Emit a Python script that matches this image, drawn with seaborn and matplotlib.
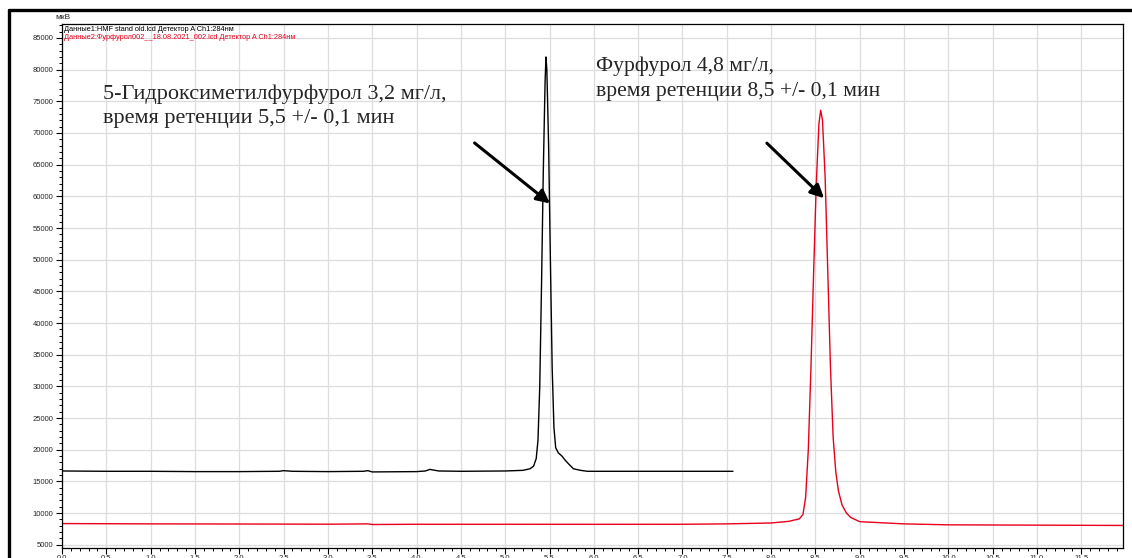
import numpy as np
import pandas as pd
import seaborn as sns
import matplotlib.pyplot as plt
from matplotlib.lines import Line2D
from matplotlib.ticker import MultipleLocator, FormatStrFormatter

# Trace 1: HMF standard (black), time in min, signal in uV
hmf_time = [0.0, 0.5, 1.0, 1.5, 2.0, 2.45, 2.5, 2.6, 3.0, 3.4, 3.45, 3.5, 4.0,
            4.1, 4.15, 4.25, 4.5, 5.0, 5.2, 5.28, 5.32, 5.35, 5.37, 5.39, 5.41,
            5.43, 5.45, 5.46, 5.47, 5.49, 5.51, 5.53, 5.55, 5.57, 5.60, 5.64,
            5.68, 5.72, 5.77, 5.85, 5.93, 6.5, 7.0, 7.57]
hmf_signal = [16650, 16600, 16600, 16550, 16550, 16600, 16700, 16600, 16550,
              16600, 16700, 16500, 16550, 16650, 16900, 16650, 16600, 16650,
              16750, 17000, 17400, 18600, 21500, 30000, 46000, 64000, 78000,
              82000, 80000, 68000, 50000, 33000, 23500, 20300, 19500, 19000,
              18300, 17700, 17000, 16750, 16600, 16600, 16600, 16600]

# Trace 2: furfural (red)
fur_time = [0.0, 1.0, 2.0, 3.0, 3.45, 3.5, 4.0, 5.0, 6.0, 7.0, 7.5, 8.0, 8.2,
            8.32, 8.36, 8.39, 8.42, 8.45, 8.48, 8.51, 8.54, 8.56, 8.58, 8.61,
            8.64, 8.67, 8.70, 8.73, 8.76, 8.80, 8.85, 8.90, 9.0, 9.5, 10.0,
            11.0, 12.0]
fur_signal = [8350, 8300, 8280, 8250, 8300, 8200, 8240, 8240, 8230, 8240, 8300,
              8440, 8700, 9100, 9800, 12500, 20000, 33000, 48000, 62000, 71500,
              73600, 72000, 63000, 48000, 33000, 22000, 16500, 13500, 11300,
              10000, 9300, 8650, 8300, 8150, 8100, 8050]

legend_lines = ['Данные1:HMF stand old.lcd Детектор A Ch1:284нм',
                'Данные2:Фурфурол002__18.08.2021_002.lcd Детектор A Ch1:284нм']
note_hmf = '5-Гидроксиметилфурфурол 3,2 мг/л,\nвремя ретенции 5,5 +/- 0,1 мин'
note_fur = 'Фурфурол 4,8 мг/л,\nвремя ретенции 8,5 +/- 0,1 мин'

sns.set_style('white')
plt.rcParams['font.family'] = ['Liberation Sans', 'DejaVu Sans']

df_hmf = pd.DataFrame({'t': hmf_time, 'v': hmf_signal})
df_fur = pd.DataFrame({'t': fur_time, 'v': fur_signal})

fig = plt.figure(figsize=(11.32, 5.58), dpi=100)
ax = fig.add_axes([0.0548, 0.018, 0.9372, 0.939])

sns.lineplot(data=df_fur, x='t', y='v', color='#e8001c', lw=1.0, ax=ax)
sns.lineplot(data=df_hmf, x='t', y='v', color='black', lw=1.0, ax=ax)

ax.set_xlim(0, 11.97)
ax.set_ylim(4500, 87200)
ax.set_xlabel('')
ax.set_ylabel('')
ax.xaxis.set_major_locator(MultipleLocator(0.5))
ax.xaxis.set_minor_locator(MultipleLocator(0.1))
ax.xaxis.set_major_formatter(FormatStrFormatter('%.1f'))
ax.yaxis.set_major_locator(MultipleLocator(5000))
ax.yaxis.set_minor_locator(MultipleLocator(1000))
ax.set_yticks(np.arange(5000, 85001, 5000))
ax.grid(True, which='major', color='#dddddd', lw=0.9)
ax.tick_params(axis='both', which='both', bottom=True, left=True,
               direction='out', color='black')
ax.tick_params(axis='both', which='major', length=4, width=0.8,
               labelsize=5.5, pad=2)
ax.tick_params(axis='both', which='minor', length=2.5, width=0.7)
ax.tick_params(axis='x', which='major', pad=1)
for s in ax.spines.values():
    s.set_color('black')
    s.set_linewidth(0.9)

# detector legend lines
ax.text(0.002, 0.997, legend_lines[0], transform=ax.transAxes, fontsize=5.3,
        color='black', va='top', ha='left')
ax.text(0.002, 0.980, legend_lines[1], transform=ax.transAxes, fontsize=5.3,
        color='#e8001c', va='top', ha='left')

# peak notes and arrows
ax.text(0.46, 77700, note_hmf, family='Liberation Serif', fontsize=16,
        va='top', ha='left', linespacing=1.4)
ax.text(6.03, 82100, note_fur, family='Liberation Serif', fontsize=15.6,
        va='top', ha='left', linespacing=1.45)
arrow = dict(arrowstyle='-|>', color='black', lw=2.2, mutation_scale=20)
ax.annotate('', xy=(5.53, 58600), xytext=(4.63, 68700), arrowprops=arrow)
ax.annotate('', xy=(8.62, 59400), xytext=(7.93, 68700), arrowprops=arrow)

fig.text(0.049, 0.962, 'мкВ', fontsize=6, ha='left', va='bottom')
fig.text(0.988, -0.012, 'мин', fontsize=5.5, ha='left', va='bottom')

# outer frame (left and top)
fig.add_artist(Line2D([0.008, 0.008], [0, 0.982], transform=fig.transFigure,
                      color='black', lw=2.4))
fig.add_artist(Line2D([0.008, 1.0], [0.982, 0.982], transform=fig.transFigure,
                      color='black', lw=2.4))

fig.savefig('out.png', dpi=100)
